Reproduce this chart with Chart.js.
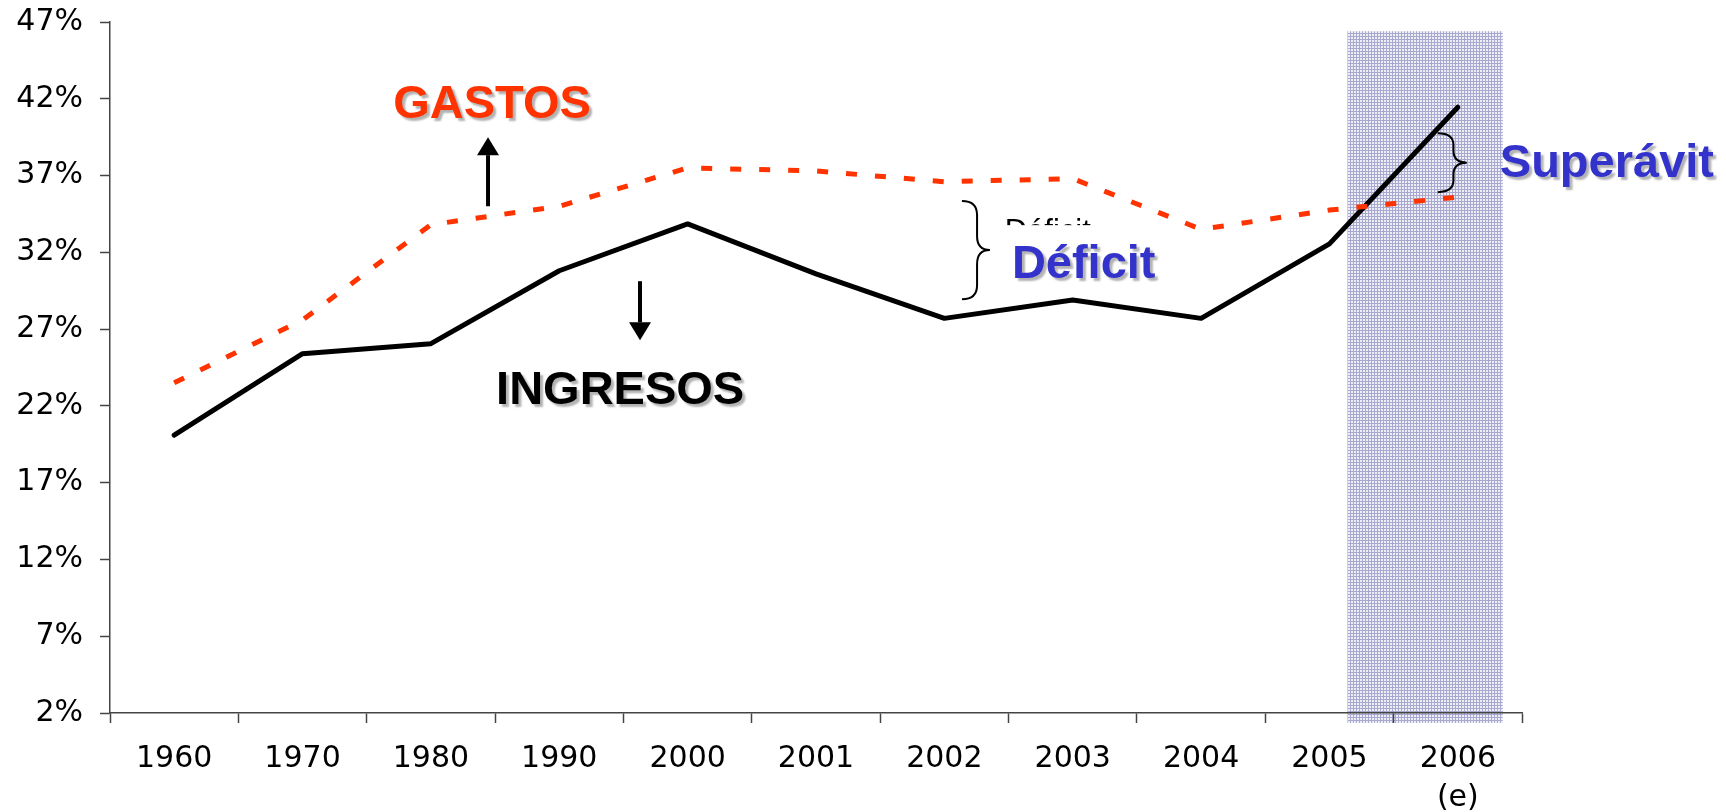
<!DOCTYPE html>
<html>
<head>
<meta charset="utf-8">
<script src="https://cdn.jsdelivr.net/npm/chart.js@4.4.0/dist/chart.umd.min.js"></script>
<style>
  html, body { margin: 0; padding: 0; background: #fff; }
</style>
</head>
<body>
<canvas id="fiscal-chart" width="1726" height="812"></canvas>
<script>
// datos (% del PIB)
const years = ['1960', '1970', '1980', '1990', '2000', '2001', '2002', '2003', '2004', '2005', ['2006', '(e)']];
const ingresos = [20.1, 25.4, 26.05, 30.8, 33.85, 30.6, 27.7, 28.9, 27.7, 32.55, 41.45];
const gastos = [23.5, 27.6, 33.8, 35.0, 37.5, 37.3, 36.6, 36.8, 33.5, 34.75, 35.6];
const yTicks = [2, 7, 12, 17, 22, 27, 32, 37, 42, 47];

function shadePattern(ctx) {
  const tile = document.createElement('canvas');
  tile.width = 3;
  tile.height = 3;
  const t = tile.getContext('2d');
  t.fillStyle = '#eeeef6';
  t.fillRect(0, 0, 3, 3);
  t.fillStyle = '#a9a9cf';
  t.fillRect(0, 0, 3, 1);
  t.fillRect(0, 0, 1, 3);
  return ctx.createPattern(tile, 'repeat');
}

function bigLabel(ctx, text, px, py, color) {
  ctx.save();
  ctx.font = 'bold 47px "Liberation Sans", Arial, sans-serif';
  ctx.textBaseline = 'alphabetic';
  ctx.textAlign = 'left';
  ctx.shadowColor = 'rgba(0,0,0,0.3)';
  ctx.shadowOffsetX = 3;
  ctx.shadowOffsetY = 3;
  ctx.shadowBlur = 2;
  ctx.fillStyle = color;
  ctx.fillText(text, px, py);
  ctx.restore();
}

function arrow(ctx, px, yFrom, yTo) {
  const dir = yTo > yFrom ? 1 : -1;
  const head = 18;
  ctx.save();
  ctx.strokeStyle = '#000';
  ctx.fillStyle = '#000';
  ctx.lineWidth = 4;
  ctx.beginPath();
  ctx.moveTo(px, yFrom);
  ctx.lineTo(px, yTo - dir * head);
  ctx.stroke();
  ctx.beginPath();
  ctx.moveTo(px, yTo);
  ctx.lineTo(px - 11, yTo - dir * head);
  ctx.lineTo(px + 11, yTo - dir * head);
  ctx.closePath();
  ctx.fill();
  ctx.restore();
}

function brace(ctx, xl, xr, yt, yb) {
  const ym = (yt + yb) / 2;
  const xc = xl + (xr - xl) * 0.54;
  const r = Math.min(14, (yb - yt) / 5);
  ctx.save();
  ctx.strokeStyle = '#000';
  ctx.lineWidth = 2;
  ctx.beginPath();
  ctx.moveTo(xl, yt);
  ctx.quadraticCurveTo(xc, yt, xc, yt + r);
  ctx.lineTo(xc, ym - r);
  ctx.quadraticCurveTo(xc, ym, xr, ym);
  ctx.quadraticCurveTo(xc, ym, xc, ym + r);
  ctx.lineTo(xc, yb - r);
  ctx.quadraticCurveTo(xc, yb, xl, yb);
  ctx.stroke();
  ctx.restore();
}

const notes = {
  id: 'notes',
  beforeDraw(chart) {
    const { ctx, chartArea, scales: { x, y } } = chart;
    const x0 = x.getPixelForValue(9.14);
    const x1 = x.getPixelForValue(10.35);
    const top = y.getPixelForValue(46.4);
    ctx.save();
    ctx.fillStyle = shadePattern(ctx);
    ctx.fillRect(x0, top, x1 - x0, chartArea.bottom + 10 - top);
    ctx.restore();
  },
  afterDraw(chart) {
    const { ctx, scales: { x, y } } = chart;
    const px = i => x.getPixelForValue(i);
    const py = v => y.getPixelForValue(v);

    bigLabel(ctx, 'GASTOS', px(1.706), py(40.74), '#ff3300');
    bigLabel(ctx, 'INGRESOS', px(2.508), py(22.1), '#000');
    arrow(ctx, px(2.445), py(35.0), py(39.5));
    arrow(ctx, px(3.629), py(30.12), py(26.27));

    // texto pequeño casi tapado
    ctx.save();
    ctx.font = '31px "Liberation Sans", Arial, sans-serif';
    ctx.fillStyle = '#000';
    ctx.fillText('Déficit', px(6.47), py(32.72));
    ctx.fillStyle = '#fff';
    ctx.fillRect(px(6.41), py(33.77), 105, 40);
    ctx.restore();

    brace(ctx, px(6.137), px(6.355), py(35.35), py(28.94));
    bigLabel(ctx, 'Déficit', px(6.526), py(30.31), '#3333cc');

    brace(ctx, px(9.844), px(10.07), py(39.76), py(35.92));
    bigLabel(ctx, 'Superávit', px(10.327), py(36.9), '#3333cc');
  }
};

new Chart(document.getElementById('fiscal-chart'), {
  type: 'line',
  data: {
    labels: years,
    datasets: [
      {
        label: 'Gastos',
        data: gastos,
        borderColor: '#ff3300',
        borderWidth: 5,
        borderDash: [11, 18],
        borderCapStyle: 'butt',
        pointRadius: 0,
        tension: 0,
        fill: false
      },
      {
        label: 'Ingresos',
        data: ingresos,
        borderColor: '#000',
        borderWidth: 5,
        borderJoinStyle: 'round',
        borderCapStyle: 'round',
        pointRadius: 0,
        tension: 0,
        fill: false
      }
    ]
  },
  options: {
    responsive: false,
    animation: false,
    layout: { padding: { top: 22, right: 204, left: 0, bottom: 0 } },
    plugins: {
      legend: { display: false },
      tooltip: { enabled: false }
    },
    scales: {
      x: {
        offset: true,
        grid: {
          offset: true,
          drawOnChartArea: false,
          tickLength: 10,
          tickColor: '#444',
          tickWidth: 1.5
        },
        border: { color: '#444', width: 1.5 },
        ticks: {
          color: '#000',
          padding: 17,
          maxRotation: 0,
          font: { family: '"DejaVu Sans", Verdana, sans-serif', size: 30, lineHeight: 1.3 }
        },
        afterFit(scale) { scale.height = 99; }
      },
      y: {
        min: yTicks[0],
        max: yTicks[yTicks.length - 1],
        afterBuildTicks(scale) { scale.ticks = yTicks.map(v => ({ value: v })); },
        grid: {
          drawOnChartArea: false,
          tickLength: 10,
          tickColor: '#444',
          tickWidth: 1.5
        },
        border: { color: '#444', width: 1.5 },
        ticks: {
          color: '#000',
          padding: 17,
          font: { family: '"DejaVu Sans", Verdana, sans-serif', size: 30 },
          callback: v => v + '%'
        },
        afterFit(scale) {
          scale.width = 110;
          scale.paddingTop = 0;
          scale.paddingBottom = 0;
        }
      }
    }
  },
  plugins: [notes]
});
</script>
</body>
</html>
